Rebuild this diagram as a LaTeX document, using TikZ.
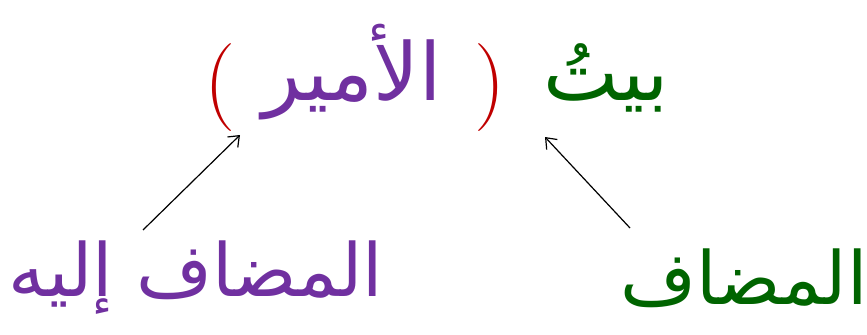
\documentclass[tikz,border=0pt]{standalone}
\usepackage{fontspec}
\usetikzlibrary{arrows.meta,calc}
\newfontfamily\arabicfont[Script=Arabic]{DejaVu Sans}
\TeXXeTstate=1
\definecolor{gr}{RGB}{0,100,0}
\definecolor{pu}{RGB}{112,48,160}
\definecolor{rd}{RGB}{192,0,0}
\begin{document}
\begin{tikzpicture}[x=0.75pt,y=-0.75pt,
  ar/.style={inner sep=0pt,font=\arabicfont\fontsize{55}{58}\selectfont},
  art/.style={inner sep=0pt,font=\arabicfont\fontsize{60}{62}\selectfont},
  pr/.style={inner sep=0pt,text=rd,font=\fontsize{66}{66}\selectfont},
  arr/.style={-{Straight Barb[length=7pt,width=11pt]},line width=0.9pt}]
\useasboundingbox (0,0) rectangle (867,335);
\node[art,text=gr] (bayt) at (606,78) {\beginR بيتُ\endR};
\node[pr] (rp) at (490,88) {)};
\node[art,text=pu] (amir) at (352,72) {\beginR الأمير\endR};
\node[pr] (lp) at (220,88) {(};
\node[ar,text=gr] (mudaf) at (744,278) {\beginR المضاف\endR};
\node[ar,text=pu] (mi) at (196,278) {\beginR المضاف إليه\endR};
\draw[arr] ($(mudaf.center)+(-114,-50)$) -- ($(bayt.center)+(-61,59)$);
\draw[arr] ($(mi.center)+(-53,-48)$) -- ($(amir.center)+(-112,63)$);
\end{tikzpicture}
\end{document}
